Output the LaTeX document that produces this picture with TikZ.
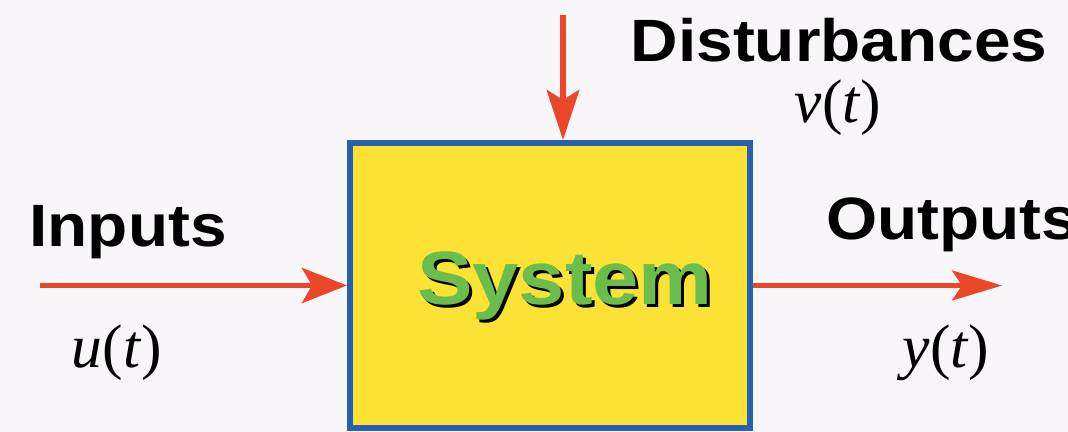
\documentclass[tikz,border=0pt]{standalone}
\usepackage{fontspec}
\setmainfont{Liberation Serif}
\newfontfamily\labelfont{Liberation Sans}[FakeStretch=1.1]
\usepackage{xcolor}
\usetikzlibrary{arrows.meta}
\usetikzlibrary{positioning}
\definecolor{bgpaper}{RGB}{248,246,248}
\definecolor{arrowred}{RGB}{234,70,40}
\definecolor{boxyellow}{RGB}{252,226,52}
\definecolor{boxblue}{RGB}{38,96,174}
\definecolor{sysgreen}{RGB}{108,190,76}
\tikzset{
  % Common styles for the diagram
  line/.style={draw=arrowred, line width=3.4pt, -{Stealth[length=9mm, width=7mm, inset=2mm]}},
  thinline/.style={draw=arrowred, line width=2.3pt, -{Stealth[length=10mm, width=6mm, inset=2mm]}},
  label/.style={font=\labelfont\bfseries\fontsize{34}{34}\selectfont, inner sep=0pt, anchor=base},
  signal/.style={font=\fontsize{35}{35}\selectfont, inner sep=0pt, anchor=base}
}

\begin{document}
\begin{tikzpicture}
    % Define styles
    \tikzstyle{block} = [rectangle, draw=boxblue, fill=boxyellow, line width=3.4pt, minimum width=8cm, minimum height=5.7cm]
    \tikzstyle{title} = [font=\labelfont\bfseries\fontsize{43}{43}\selectfont, inner sep=0pt, anchor=base]

    % Page
    \fill [bgpaper] (0,0) rectangle (21.36,8.64);
    \clip (0,0) rectangle (21.36,8.64);

    % Place nodes
    \node [block] (system) at (11.0,2.93) {};
    \node [title, text=black] (shadow) at (11.36,2.48) {System};
    \node [title, text=sysgreen] (systitle) at (11.3,2.54) {System};
    \node [label] (inputs) at (2.56,3.70) {Inputs};
    \node [label, anchor=base west] (outputs) at (16.52,3.84) {Outputs};
    \node [label] (disturb) at (16.78,7.40) {Disturbances};
    \node [signal] (u) at (2.34,1.28) {\textit{u}(\textit{t})};
    \node [signal] (y) at (18.92,1.28) {\textit{y}(\textit{t})};
    \node [signal] (v) at (16.76,6.18) {\textit{v}(\textit{t})};
    \coordinate (in) at (0.8,2.93);
    \coordinate (out) at (20.04,2.93);
    \coordinate (top) at (11.26,8.34);

    % Draw edges
    \path [line] (in) -- (system.west);
    \path [thinline] (system.east) -- (out);
    \path [line, -{Stealth[length=10mm, width=6.5mm, inset=2mm]}] (top) -- (top |- system.north);

\end{tikzpicture}
\end{document}
